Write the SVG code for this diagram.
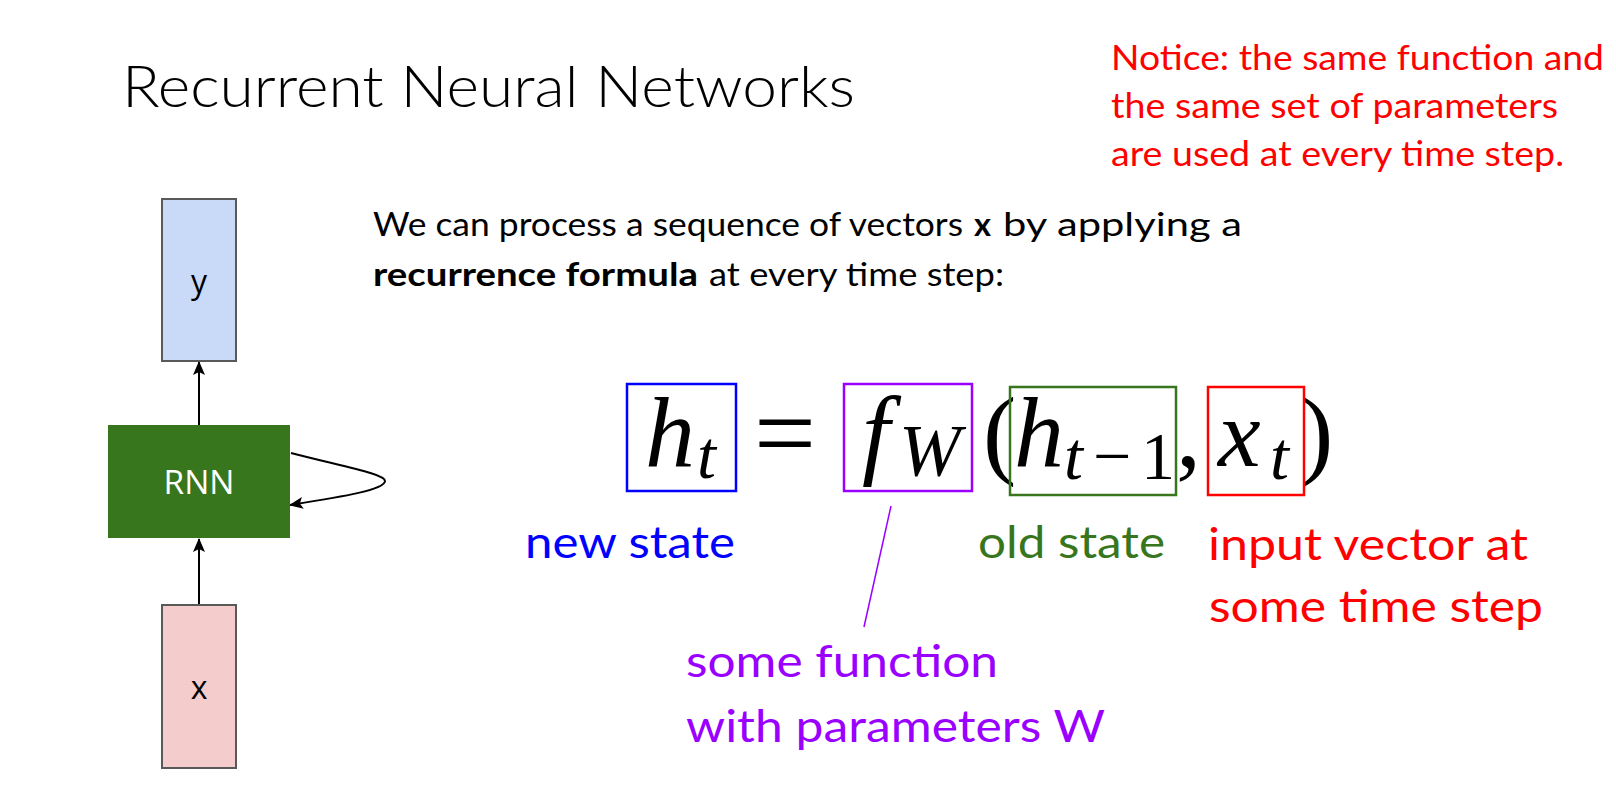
<svg xmlns="http://www.w3.org/2000/svg" width="1616" height="805" viewBox="0 0 1616 805">
<style>
.cal{font-family:Lato,"Open Sans","Liberation Sans",sans-serif}
.title{font-size:58px;font-weight:300;fill:#000}
.body{font-size:33px;fill:#000}
.bold{font-weight:700}
.note{font-size:35px;fill:#FF0000}
.lab{font-size:44px}
.node-txt{font-family:"Open Sans","Liberation Sans",sans-serif;font-size:32px;text-anchor:middle}
.math{font-family:"Liberation Serif","Times New Roman",serif;font-style:italic;fill:#000}
.up{font-family:"Liberation Serif","Times New Roman",serif;font-style:normal;fill:#000}
.big{font-size:100px}
.sub{font-size:68px}
.box{fill:none;stroke-width:2.5}
.conn{fill:none;stroke:#000;stroke-width:2}
</style>
<defs>
<marker id="ah" markerUnits="userSpaceOnUse" markerWidth="14" markerHeight="12" viewBox="0 0 14 12" refX="13" refY="6" orient="auto">
<path d="M0,0 L14,6 L0,12 L3,6 Z" fill="#000"/>
</marker>
</defs>
<rect width="1616" height="805" fill="#fff"/>

<text class="cal title" x="122" y="107" textLength="733" lengthAdjust="spacingAndGlyphs">Recurrent Neural Networks</text>

<g id="notice" class="cal note">
<text x="1111" y="70" textLength="493" lengthAdjust="spacingAndGlyphs">Notice: the same function and</text>
<text x="1111" y="118" textLength="447" lengthAdjust="spacingAndGlyphs">the same set of parameters</text>
<text x="1111" y="166" textLength="453" lengthAdjust="spacingAndGlyphs">are used at every time step.</text>
</g>

<g id="intro" class="cal body">
<text x="373" y="236" textLength="590" lengthAdjust="spacingAndGlyphs">We can process a sequence of vectors</text>
<text class="bold" x="974" y="236" textLength="17" lengthAdjust="spacingAndGlyphs">x</text>
<text x="1003" y="236" textLength="239" lengthAdjust="spacingAndGlyphs">by applying a</text>
<text class="bold" x="373" y="286" textLength="325" lengthAdjust="spacingAndGlyphs">recurrence formula</text>
<text x="709" y="286" textLength="295" lengthAdjust="spacingAndGlyphs">at every time step:</text>
</g>

<g id="connectors">
<line class="conn" x1="199" y1="425" x2="199" y2="362" marker-end="url(#ah)"/>
<line class="conn" x1="199" y1="605" x2="199" y2="539" marker-end="url(#ah)"/>
<path class="conn" d="M291,453 C345,467 385,474 385,481 C385,490 340,497 290,505" marker-end="url(#ah)"/>
<line x1="891" y1="506" x2="864" y2="627" stroke="#9900FF" stroke-width="1.5"/>
</g>

<g id="node-y">
<rect x="162" y="199" width="74" height="162" fill="#C9DAF8" stroke="#595959" stroke-width="2"/>
<text class="node-txt" x="199" y="293" fill="#000" font-size="36">y</text>
</g>
<g id="node-rnn">
<rect x="108" y="425" width="182" height="113" fill="#38761D"/>
<text class="node-txt" x="199" y="494" fill="#fff" textLength="71" lengthAdjust="spacingAndGlyphs">RNN</text>
</g>
<g id="node-x">
<rect x="162" y="605" width="74" height="163" fill="#F4CCCC" stroke="#595959" stroke-width="2"/>
<text class="node-txt" x="199" y="699" fill="#000" font-size="36">x</text>
</g>

<g id="formula">
<text class="math big" x="645" y="466">h</text>
<text class="math sub" x="697" y="478">t</text>
<text class="up" font-size="110" x="754" y="470">=</text>
<text class="math big" x="862" y="466">f</text>
<text class="math" font-size="74" x="899" y="476">W</text>
<text class="up big" x="983" y="466">(</text>
<text class="math big" x="1014" y="466">h</text>
<text class="math sub" x="1064" y="479">t</text>
<text class="up sub" x="1093" y="479">−</text>
<text class="up sub" x="1141" y="479">1</text>
<text class="up big" x="1176" y="466">,</text>
<text class="math" font-size="96" x="1218" y="466">x</text>
<text class="math sub" x="1270" y="479">t</text>
<text class="up big" x="1300" y="466">)</text>
</g>

<g id="box-ht"><rect class="box" x="627" y="384" width="109" height="107" stroke="#0000FF"/></g>
<g id="box-fw"><rect class="box" x="844" y="384" width="128" height="107" stroke="#9900FF"/></g>
<g id="box-hprev"><rect class="box" x="1010" y="387" width="166" height="108" stroke="#38761D"/></g>
<g id="box-xt"><rect class="box" x="1208" y="387" width="96" height="108" stroke="#FF0000"/></g>

<g id="labels" class="cal lab">
<text x="525" y="558" fill="#0000FF" textLength="210" lengthAdjust="spacingAndGlyphs">new state</text>
<text x="978" y="558" fill="#38761D" textLength="187" lengthAdjust="spacingAndGlyphs">old state</text>
<text x="1208" y="560" fill="#FF0000" textLength="320" lengthAdjust="spacingAndGlyphs">input vector at</text>
<text x="1209" y="622" fill="#FF0000" textLength="334" lengthAdjust="spacingAndGlyphs">some time step</text>
<text x="686" y="677" fill="#9900FF" textLength="312" lengthAdjust="spacingAndGlyphs">some function</text>
<text x="686" y="742" fill="#9900FF" textLength="419" lengthAdjust="spacingAndGlyphs">with parameters W</text>
</g>
</svg>
